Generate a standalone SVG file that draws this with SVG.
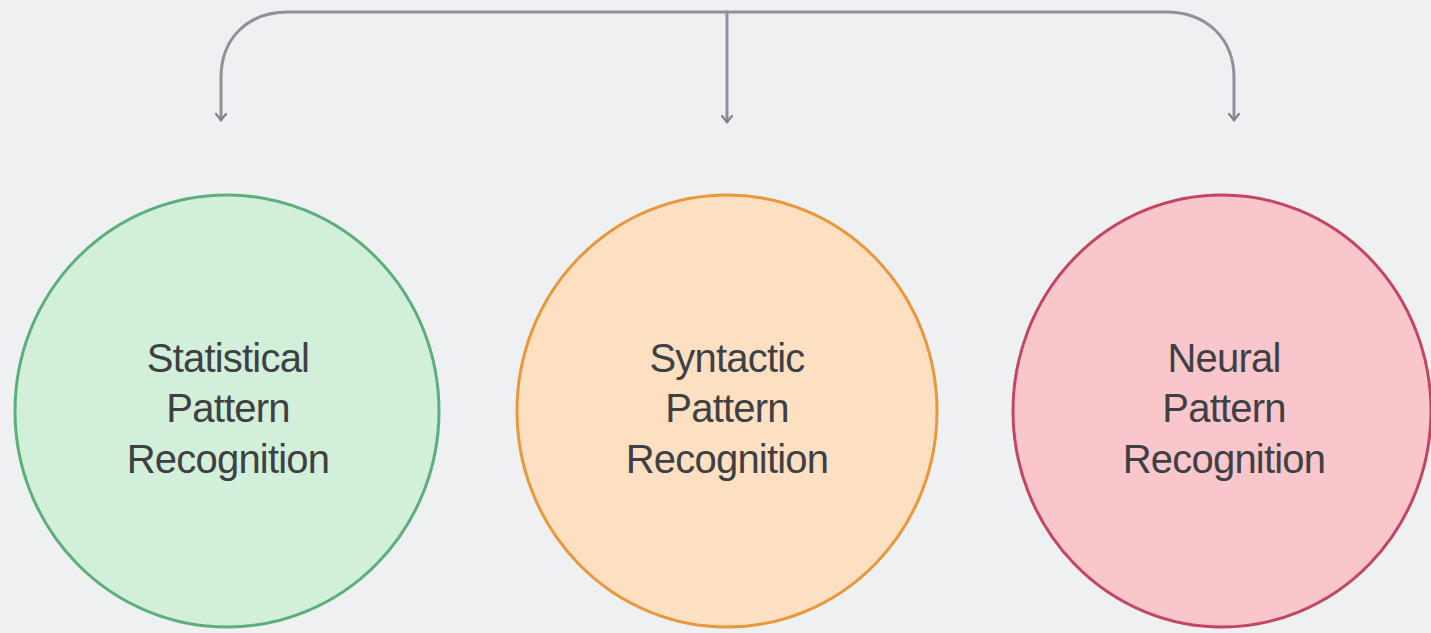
<svg xmlns="http://www.w3.org/2000/svg" width="1431" height="633" viewBox="0 0 1431 633">
<defs>
<style>
.conn{fill:none;stroke:#8e9298;stroke-width:3;stroke-linecap:round;stroke-linejoin:round}
.lbl{font-family:"Liberation Sans",Arial,sans-serif;font-size:40px;letter-spacing:-0.8px;text-anchor:middle;fill:#3f4044}
</style>
<marker id="arr" viewBox="0 0 12 10" refX="6" refY="8" markerWidth="12" markerHeight="10" markerUnits="userSpaceOnUse" orient="0">
<polyline points="1,2 6,8 11,2" fill="none" stroke="#7e8288" stroke-width="2.2" stroke-linecap="round" stroke-linejoin="round"/>
</marker>
</defs>
<rect width="1431" height="633" fill="#eef0f2"/>
<g id="connectors">
<path class="conn" d="M 727 12 H 288 C 248 12 221 38 221 78 V 120" marker-end="url(#arr)"/>
<path class="conn" d="M 727 12 V 122" marker-end="url(#arr)"/>
<path class="conn" d="M 727 12 H 1166 C 1206 12 1234 38 1234 78 V 120" marker-end="url(#arr)"/>
</g>
<g id="statistical">
<ellipse cx="227" cy="411" rx="212" ry="216" fill="#d2efda" stroke="#5caf7c" stroke-width="3"/>
<text class="lbl" x="228" y="372">Statistical</text>
<text class="lbl" x="228" y="422">Pattern</text>
<text class="lbl" x="228" y="473">Recognition</text>
</g>
<g id="syntactic">
<ellipse cx="727" cy="411" rx="210" ry="216" fill="#fde0c2" stroke="#e9973a" stroke-width="3"/>
<text class="lbl" x="727" y="372">Syntactic</text>
<text class="lbl" x="727" y="422">Pattern</text>
<text class="lbl" x="727" y="473">Recognition</text>
</g>
<g id="neural">
<ellipse cx="1222" cy="411" rx="209" ry="216" fill="#f8c6cb" stroke="#c44462" stroke-width="3"/>
<text class="lbl" x="1224" y="372">Neural</text>
<text class="lbl" x="1224" y="422">Pattern</text>
<text class="lbl" x="1224" y="473">Recognition</text>
</g>
</svg>
